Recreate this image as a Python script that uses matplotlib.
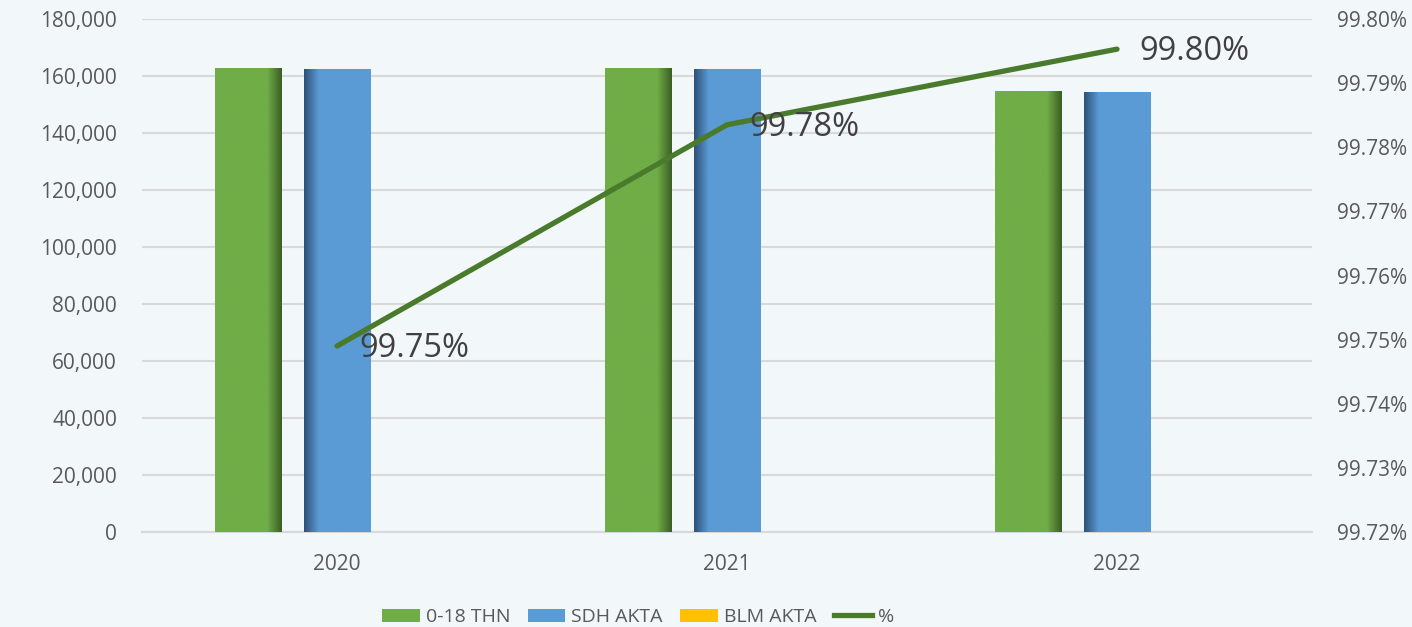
import numpy as np
import matplotlib
matplotlib.use("Agg")
import matplotlib.pyplot as plt
from matplotlib.colors import to_rgb
from matplotlib.ticker import FuncFormatter, MultipleLocator
from matplotlib.lines import Line2D
from matplotlib.patches import Patch

plt.rcParams['font.family'] = ['Open Sans', 'DejaVu Sans']

years = ['2020', '2021', '2022']
total_0_18 = [162800, 162700, 154850]
sdh_akta = [162390, 162340, 154530]
blm_akta = [410, 360, 320]
pct = [99.749, 99.7835, 99.7953]
pct_labels = ['99.75%', '99.78%', '99.80%']

series_names = ['0-18 THN', 'SDH AKTA', 'BLM AKTA', '%']
bar_colors = ['#70AD47', '#5B9BD5', '#FFC000']
dark_colors = ['#3B5E25', '#2C5279', '#FFC000']
line_color = '#4A7A2B'
text_color = '#595959'
grid_color = '#D9D9D9'
bg_color = '#F2F7F9'

W, H = 1412, 627
fig = plt.figure(figsize=(W / 100, H / 100), dpi=100, facecolor=bg_color)
ax = fig.add_axes([142 / W, 1 - 532 / H, (1312 - 142) / W, (532 - 19) / H])
ax.set_facecolor('none')

x = np.arange(len(years))
width = 0.17
offsets = [-0.227, 0.0, 0.227]
series = [total_0_18, sdh_akta, blm_akta]


def shade(bar, base, dark, side):
    x0, y0 = bar.get_x(), bar.get_y()
    w, h = bar.get_width(), bar.get_height()
    n = 100
    t = np.linspace(0, 1, n)
    if side == 'right':
        f = np.clip((t - 0.78) / 0.22, 0, 1)
    else:
        f = np.clip((0.22 - t) / 0.22, 0, 1)
    b = np.array(to_rgb(base))
    d = np.array(to_rgb(dark))
    cols = b[None, :] * (1 - f[:, None]) + d[None, :] * f[:, None]
    img = np.tile(cols[None, :, :], (2, 1, 1))
    im = ax.imshow(img, extent=[x0, x0 + w, y0, y0 + h], aspect='auto',
                   origin='lower', zorder=3, interpolation='bilinear')
    im.set_clip_path(bar)


for i, (vals, off) in enumerate(zip(series, offsets)):
    bars = ax.bar(x + off, vals, width, color=bar_colors[i], zorder=2,
                  linewidth=0)
    if i == 0:
        for b in bars:
            shade(b, bar_colors[0], dark_colors[0], 'right')
    elif i == 1:
        for b in bars:
            shade(b, bar_colors[1], dark_colors[1], 'left')

ax.set_xlim(-0.5, 2.5)
ax.set_ylim(0, 180000)
ax.yaxis.set_major_locator(MultipleLocator(20000))
ax.yaxis.set_major_formatter(FuncFormatter(lambda v, p: f'{int(v):,}'))
ax.grid(axis='y', color=grid_color, linewidth=1.5, zorder=0)
ax.set_axisbelow(True)
for s in ['top', 'right', 'left']:
    ax.spines[s].set_visible(False)
ax.spines['bottom'].set_color(grid_color)
ax.spines['bottom'].set_linewidth(1.5)
ax.set_xticks(x)
ax.set_xticklabels(years)
ax.tick_params(axis='both', length=0, labelsize=15, labelcolor=text_color)
ax.tick_params(axis='y', pad=18)
ax.tick_params(axis='x', pad=16)

ax2 = ax.twinx()
ax2.set_ylim(99.72, 99.80)
ax2.yaxis.set_major_locator(MultipleLocator(0.01))
ax2.yaxis.set_major_formatter(FuncFormatter(lambda v, p: f'{v:.2f}%'))
ax2.tick_params(axis='y', length=0, labelsize=15, labelcolor=text_color, pad=18)
for s in ['top', 'right', 'left', 'bottom']:
    ax2.spines[s].set_visible(False)
ax2.plot(x, pct, color=line_color, linewidth=3.8, solid_capstyle='round', zorder=5)
for xi, yi, lab in zip(x, pct, pct_labels):
    ax2.annotate(lab, (xi, yi), xytext=(16, -2), textcoords='offset points',
                 ha='left', va='center', fontsize=23.5, color='#404040', zorder=6)

handles = [Patch(facecolor=bar_colors[0], edgecolor='none'),
           Patch(facecolor=bar_colors[1], edgecolor='none'),
           Patch(facecolor=bar_colors[2], edgecolor='none'),
           Line2D([0], [0], color=line_color, linewidth=3.8)]
fig.legend(handles, series_names, loc='center', ncol=4,
           bbox_to_anchor=(638 / W, 1 - 617 / H), frameon=False,
           fontsize=14, labelcolor=text_color, handlelength=1.95,
           handleheight=0.65, handletextpad=0.3, columnspacing=0.9)

fig.savefig('out.png', dpi=100, facecolor=bg_color)
